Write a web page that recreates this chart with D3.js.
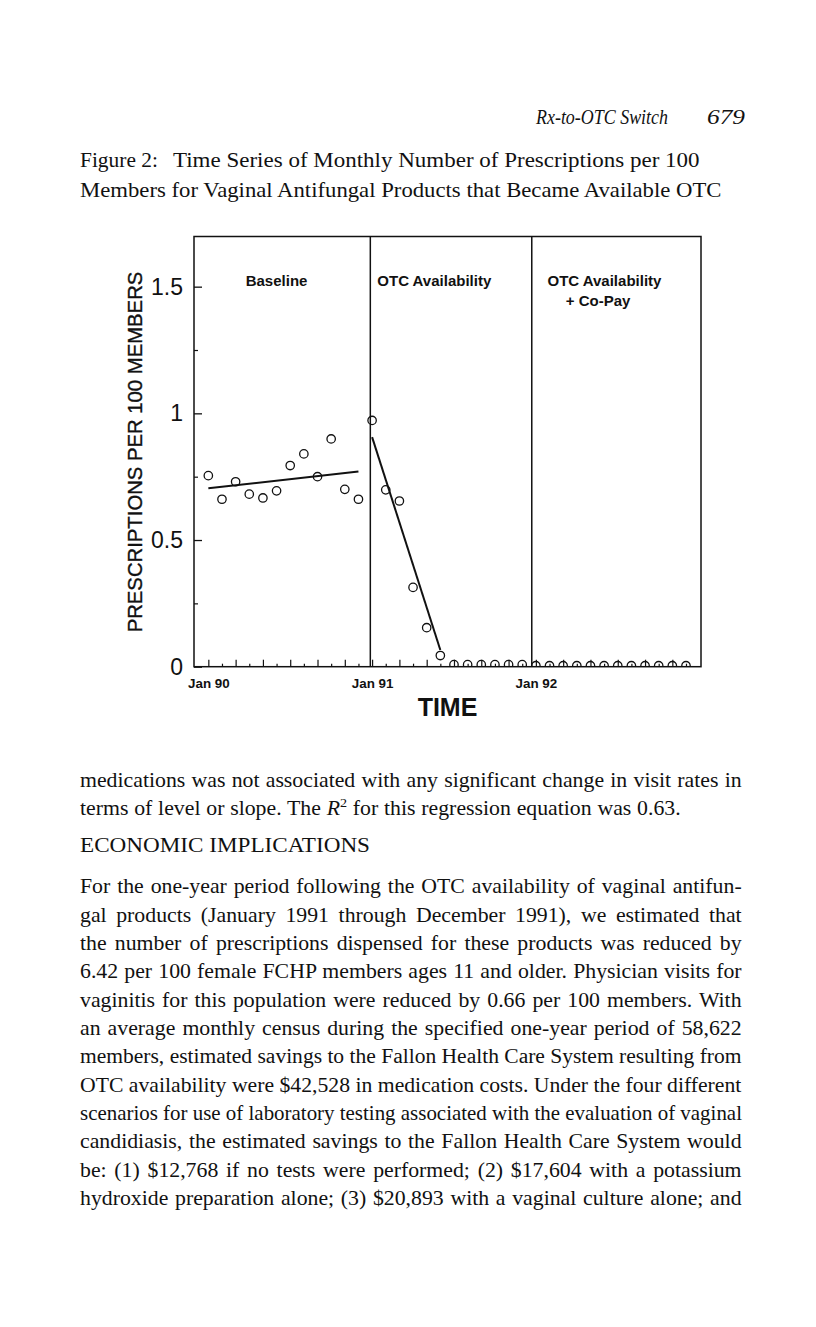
<!DOCTYPE html>
<html><head><meta charset="utf-8">
<script src="https://cdn.jsdelivr.net/npm/d3@7"></script>
<style>body{margin:0;background:#fff}svg{display:block}</style>
</head><body>
<script>
// ---------------- data ----------------
// month index: 0 = Jan 1990
const baselineMonths = d3.range(0, 12);
const baselineValues = [0.754, 0.661, 0.730, 0.681, 0.666, 0.694, 0.794, 0.840, 0.750, 0.899, 0.700, 0.661];
const otcMonths = d3.range(12, 24);
const otcValues = [0.972, 0.698, 0.654, 0.313, 0.154, 0.044, 0.008, 0.008, 0.008, 0.008, 0.008, 0.008];
const copayMonths = d3.range(24, 36);
const copayValues = [0.004, 0.004, 0.004, 0.004, 0.004, 0.004, 0.004, 0.004, 0.004, 0.004, 0.004, 0.004];
// fitted regression segments
const trendStartMonth = [0, 12];
const trendEndMonth = [11, 17];
const trendStartValue = [0.704, 0.906];
const trendEndValue = [0.770, 0.066];
// phase boundaries (month index) and labels
const phaseBreaks = [11.87, 23.7];
const phaseLabels = [["Baseline"], ["OTC Availability"], ["OTC Availability", "+ Co-Pay"]];
// axes
const yMajorTicks = [0, 0.5, 1, 1.5];
const yMajorLabels = ["0", "0.5", "1", "1.5"];
const yMinorTicks = [0.25, 0.75, 1.25];
const xLabelMonths = [0, 12, 24];
const xTickLabels = ["Jan 90", "Jan 91", "Jan 92"];
const xLongTicks = d3.range(0, 36, 2);
const xShortTicks = d3.range(1, 36, 2);
const yTitle = "PRESCRIPTIONS PER 100 MEMBERS";
const xTitle = "TIME";

// page text
const headerTitle = "Rx-to-OTC Switch";
const pageNumber = "679";
const captionLabel = "Figure 2:";
const captionLine1 = "Time Series of Monthly Number of Prescriptions per 100";
const captionLine2 = "Members for Vaginal Antifungal Products that Became Available OTC";
const bodyLines = [
  {t: "medications was not associated with any significant change in visit rates in", w: 662},
  {t: "R2", w: 601},
  {t: "ECONOMIC IMPLICATIONS", w: 290, caps: true},
  {t: "For the one-year period following the OTC availability of vaginal antifun-", w: 662},
  {t: "gal products (January 1991 through December 1991), we estimated that", w: 662},
  {t: "the number of prescriptions dispensed for these products was reduced by", w: 662},
  {t: "6.42 per 100 female FCHP members ages 11 and older. Physician visits for", w: 662},
  {t: "vaginitis for this population were reduced by 0.66 per 100 members. With", w: 662},
  {t: "an average monthly census during the specified one-year period of 58,622", w: 662},
  {t: "members, estimated savings to the Fallon Health Care System resulting from", w: 662},
  {t: "OTC availability were $42,528 in medication costs. Under the four different", w: 662},
  {t: "scenarios for use of laboratory testing associated with the evaluation of vaginal", w: 662},
  {t: "candidiasis, the estimated savings to the Fallon Health Care System would", w: 662},
  {t: "be: (1) $12,768 if no tests were performed; (2) $17,604 with a potassium", w: 662},
  {t: "hydroxide preparation alone; (3) $20,893 with a vaginal culture alone; and", w: 662}
];
const bodyBaselines = [787, 815, 852, 893, 921.5, 950, 978, 1006.5, 1035, 1063, 1091.5, 1120, 1148, 1176.5, 1205];

// ---------------- drawing ----------------
const W = 816, H = 1327;
const ink = "#111";
const svg = d3.select("body").append("svg").attr("width", W).attr("height", H)
  .style("background", "#fff");

const pL = 194, pR = 701, pT = 236.5, pB = 666.7;
const x = d3.scaleLinear().domain([-1.05, 36.1]).range([pL, pR]);
const y = d3.scaleLinear().domain([0, 1.698]).range([pB, pT]);

const sans = "'Liberation Sans', Arial, Helvetica, sans-serif";
const serif = "'Liberation Serif', 'Times New Roman', serif";

// fit a line of text to a width: widen glyphs a little (wider book face), rest via word spacing
function fitLine(t, x0, y0, width, maxS) {
  const node = t.node();
  const L = node.getComputedTextLength();
  const s = Math.max(Math.min(width / L, maxS), 0.9);
  const spaces = (node.textContent.match(/ /g) || []).length;
  const ws = spaces ? (width / s - L) / spaces : 0;
  t.attr("x", 0).attr("y", 0).attr("word-spacing", ws.toFixed(2))
    .attr("transform", `translate(${x0},${y0}) scale(${s.toFixed(4)},1)`);
}

// header and caption
svg.append("text").attr("x", 536).attr("y", 124).attr("font-family", serif)
  .attr("font-style", "italic").attr("font-size", 20).attr("fill", ink)
  .attr("textLength", 132).attr("lengthAdjust", "spacingAndGlyphs").text(headerTitle);
svg.append("text").attr("x", 707).attr("y", 124).attr("font-family", serif)
  .attr("font-style", "italic").attr("font-size", 20).attr("fill", ink)
  .attr("textLength", 38).attr("lengthAdjust", "spacingAndGlyphs").text(pageNumber);
const cap0 = svg.append("text").attr("font-family", serif)
  .attr("font-size", 21.5).attr("fill", ink).text(captionLabel);
fitLine(cap0, 80, 167, 78, 1.1);
const cap1 = svg.append("text").attr("font-family", serif)
  .attr("font-size", 21.5).attr("fill", ink).text(captionLine1);
fitLine(cap1, 173, 167, 527, 1.1);
const cap2 = svg.append("text").attr("font-family", serif)
  .attr("font-size", 21.5).attr("fill", ink).text(captionLine2);
fitLine(cap2, 80, 197, 642, 1.1);

// chart frame
const g = svg.append("g");
g.append("rect").attr("x", pL).attr("y", pT).attr("width", pR - pL).attr("height", pB - pT)
  .attr("fill", "none").attr("stroke", ink).attr("stroke-width", 1.5);
g.selectAll("line.div").data(phaseBreaks).join("line").attr("class", "div")
  .attr("x1", d => x(d)).attr("x2", d => x(d)).attr("y1", pT).attr("y2", pB)
  .attr("stroke", ink).attr("stroke-width", 1.5);

// y axis (ticks pointing inward)
const yAxisMajor = d3.axisLeft(y).tickValues(yMajorTicks).tickSize(-8).tickPadding(11)
  .tickFormat((d, i) => yMajorLabels[i]);
const ya = g.append("g").attr("transform", `translate(${pL},0)`).call(yAxisMajor);
ya.select(".domain").remove();
ya.selectAll("line").attr("stroke", ink).attr("stroke-width", 1.3);
ya.selectAll("text").attr("font-family", sans).attr("font-size", 23).attr("fill", ink);
const yMinor = g.append("g").attr("transform", `translate(${pL},0)`)
  .call(d3.axisLeft(y).tickValues(yMinorTicks).tickSize(-4).tickFormat(""));
yMinor.select(".domain").remove();
yMinor.selectAll("line").attr("stroke", ink).attr("stroke-width", 1.2);

// x axis ticks (inward)
const xLong = g.append("g").attr("transform", `translate(0,${pB})`)
  .call(d3.axisBottom(x).tickValues(xLongTicks).tickSize(-7).tickFormat(""));
xLong.select(".domain").remove();
xLong.selectAll("line").attr("stroke", ink).attr("stroke-width", 1.2);
const xShort = g.append("g").attr("transform", `translate(0,${pB})`)
  .call(d3.axisBottom(x).tickValues(xShortTicks).tickSize(-3).tickFormat(""));
xShort.select(".domain").remove();
xShort.selectAll("line").attr("stroke", ink).attr("stroke-width", 1.2);
const xLab = g.append("g").attr("transform", `translate(0,${pB})`)
  .call(d3.axisBottom(x).tickValues(xLabelMonths).tickSize(0).tickPadding(12)
    .tickFormat((d, i) => xTickLabels[i]));
xLab.select(".domain").remove();
xLab.selectAll("text").attr("font-family", sans).attr("font-weight", "bold")
  .attr("font-size", 13.4).attr("fill", ink);

// axis titles
svg.append("text").attr("transform", `translate(142,452) rotate(-90)`)
  .attr("text-anchor", "middle").attr("font-family", sans).attr("font-size", 20.3)
  .attr("fill", ink).attr("stroke", ink).attr("stroke-width", 0.35).text(yTitle);
svg.append("text").attr("x", (pL + pR) / 2).attr("y", 716).attr("text-anchor", "middle")
  .attr("font-family", sans).attr("font-weight", "bold").attr("font-size", 25)
  .attr("fill", ink).text(xTitle);

// phase labels
const labelX = [pL + 51.7, x(phaseBreaks[0]) + 7, x(phaseBreaks[1]) + 15.7];
const labelIndent = [[0], [0], [0, 18.3]];
phaseLabels.forEach((lines, i) => {
  lines.forEach((s, k) => {
    g.append("text").attr("x", labelX[i] + labelIndent[i][k]).attr("y", 286 + k * 20)
      .attr("font-family", sans).attr("font-weight", "bold").attr("font-size", 15)
      .attr("fill", ink).text(s);
  });
});

// clip for data marks
svg.append("clipPath").attr("id", "plotclip").append("rect")
  .attr("x", pL).attr("y", pT).attr("width", pR - pL).attr("height", pB - pT);
const marks = g.append("g").attr("clip-path", "url(#plotclip)");

// regression lines
trendStartMonth.forEach((m0, i) => {
  marks.append("line").attr("x1", x(m0)).attr("y1", y(trendStartValue[i]))
    .attr("x2", x(trendEndMonth[i])).attr("y2", y(trendEndValue[i]))
    .attr("stroke", ink).attr("stroke-width", 2);
});

// points
const pts = [].concat(
  baselineMonths.map((m, i) => ({m, v: baselineValues[i]})),
  otcMonths.map((m, i) => ({m, v: otcValues[i]})),
  copayMonths.map((m, i) => ({m, v: copayValues[i]}))
);
marks.selectAll("circle").data(pts).join("circle")
  .attr("cx", d => x(d.m)).attr("cy", d => y(d.v)).attr("r", 4.2)
  .attr("fill", "none").attr("stroke", ink).attr("stroke-width", 1.3);

// body text
const bodyFont = 20;
bodyLines.forEach((ln, i) => {
  const t = svg.append("text").attr("font-family", serif).attr("font-size", bodyFont).attr("fill", ink);
  if (ln.t === "R2") {
    t.append("tspan").text("terms of level or slope. The ");
    t.append("tspan").attr("font-style", "italic").text("R");
    t.append("tspan").attr("font-size", 13).attr("dy", -8).text("2");
    t.append("tspan").attr("dy", 8).text(" for this regression equation was 0.63.");
    fitLine(t, 80, bodyBaselines[i], ln.w, 1.09);
  } else if (ln.caps) {
    t.text(ln.t).attr("x", 80).attr("y", bodyBaselines[i])
      .attr("textLength", ln.w).attr("lengthAdjust", "spacingAndGlyphs");
  } else {
    t.text(ln.t);
    fitLine(t, 80, bodyBaselines[i], ln.w, 1.09);
  }
});
</script>
</body></html>
